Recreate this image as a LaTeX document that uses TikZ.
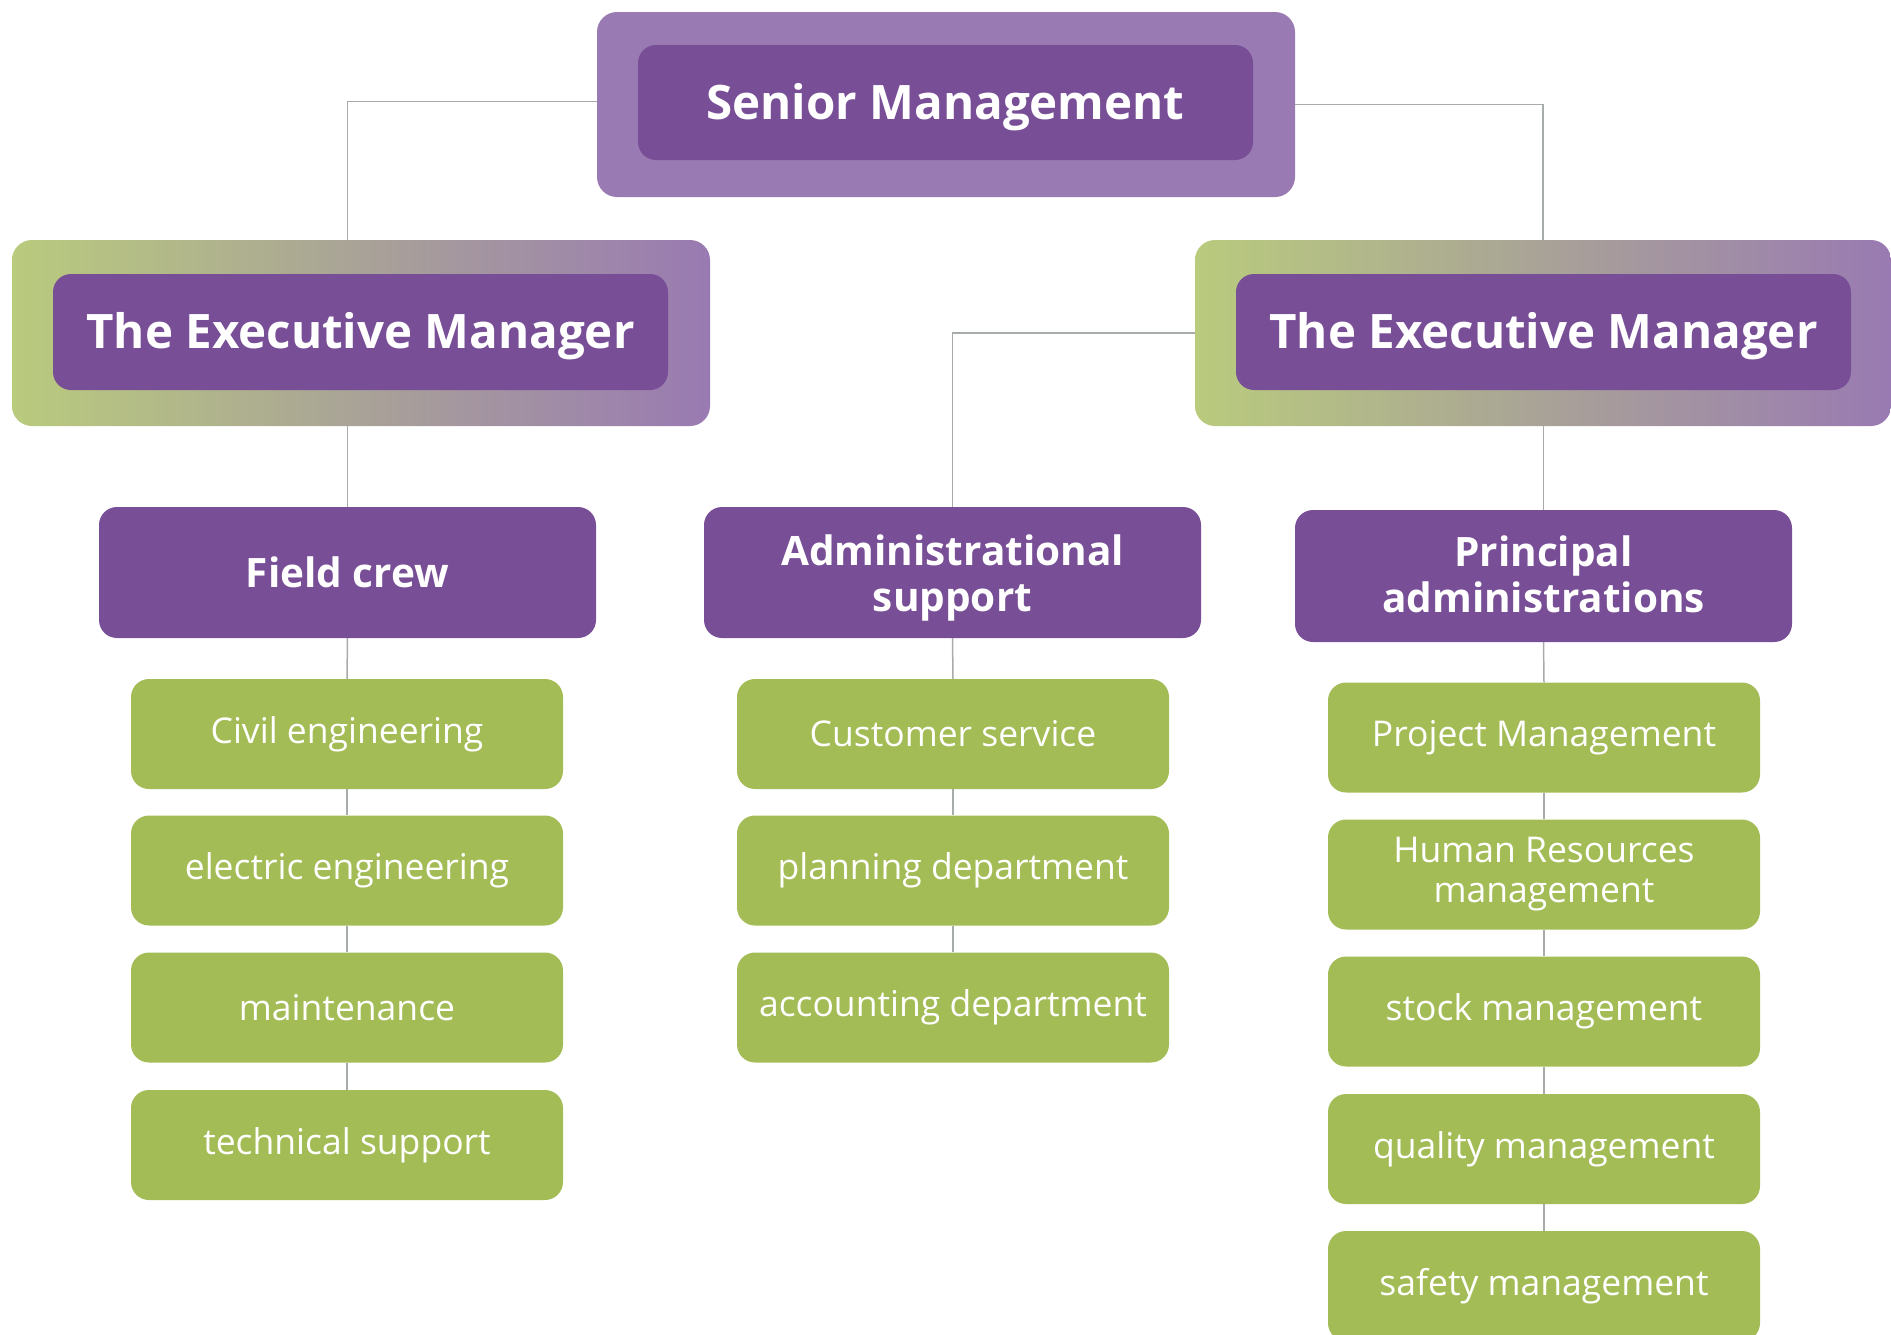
\documentclass[tikz,border=0pt]{standalone}
\usepackage{fontspec}
\setmainfont{Open Sans}
\definecolor{dpurple}{RGB}{120,78,150}
\definecolor{lpurple}{RGB}{153,122,178}
\definecolor{gleft}{RGB}{185,203,125}
\definecolor{gmid}{RGB}{168,162,152}
\definecolor{gright}{RGB}{153,122,178}
\definecolor{boxgreen}{RGB}{163,188,85}
\definecolor{linegray}{RGB}{168,172,168}
\begin{document}
\begin{tikzpicture}[x=1pt,y=-1pt,
  outerplain/.style={fill=lpurple, rounded corners=20pt, inner sep=0pt},
  outergrad/.style={left color=gleft, middle color=gmid, right color=gright, rounded corners=20pt, inner sep=0pt, draw=none},
  topbox/.style={fill=dpurple, rounded corners=18pt, text=white, inner sep=0pt, align=center, font=\bfseries\fontsize{47.5}{54}\selectfont},
  deptbox/.style={fill=dpurple, rounded corners=18pt, text=white, inner sep=0pt, align=center, minimum width=497pt, font=\bfseries\fontsize{40.5}{46}\selectfont},
  depttext/.style={text=white, inner sep=0pt, align=center, font=\bfseries\fontsize{40.5}{46}\selectfont},
  unitbox/.style={fill=boxgreen, rounded corners=18pt, text=white, inner sep=0pt, align=center, minimum width=432pt, minimum height=110pt, font=\fontsize{35.5}{40}\selectfont},
  link/.style={draw=linegray, line width=1.5pt}]
\clip (0,0) rectangle (1891,1334);
\coordinate (fcx) at (347.5,0);
\coordinate (asx) at (952.5,0);
\coordinate (pax) at (1543.5,0);
% top level
\node[outerplain, minimum width=698pt, minimum height=185pt] (smo) at (946,104.5) {};
\node[topbox, minimum width=615pt, minimum height=115pt] (sm) at (945.5,102.5) {\raisebox{-5pt}[\height][\depth]{Senior Management}};
% executives
\node[outergrad, minimum width=698pt, minimum height=186pt] (exlo) at (361,333) {};
\node[topbox, minimum width=615pt, minimum height=116pt] (exl) at (360.5,332) {\raisebox{-4pt}[\height][\depth]{The Executive Manager}};
\node[outergrad, minimum width=696pt, minimum height=186pt] (exro) at (1543,333) {};
\node[topbox, minimum width=615pt, minimum height=116pt] (exr) at (1543.5,332) {\raisebox{-4pt}[\height][\depth]{The Executive Manager}};
% departments
\node[deptbox, minimum height=131pt] (fc) at (347.5,572.5) {Field crew};
\node[deptbox, minimum height=131pt, label={[depttext, yshift=-5pt]center:{Administrational\\support}}] (as) at (952.5,572.5) {};
\node[deptbox, minimum height=132pt, label={[depttext, yshift=2pt]center:{Principal\\administrations}}] (pa) at (1543.5,576) {};
% units left
\node[unitbox] (l1) at (347,734) {Civil engineering};
\node[unitbox] (l2) at (347,870.5) {electric engineering};
\node[unitbox] (l3) at (347,1007.5) {maintenance};
\node[unitbox] (l4) at (347,1145) {technical support};
% units middle
\node[unitbox] (m1) at (953,734) {Customer service};
\node[unitbox] (m2) at (953,870.5) {planning department};
\node[unitbox] (m3) at (953,1007.5) {accounting department};
% units right
\node[unitbox] (r1) at (1544,737.5) {Project Management};
\node[unitbox] (r2) at (1544,874.5) {Human Resources\\management};
\node[unitbox] (r3) at (1544,1011.5) {stock management};
\node[unitbox] (r4) at (1544,1149) {quality management};
\node[unitbox] (r5) at (1544,1286) {safety management};
% connectors
\draw[link] ([yshift=3pt]smo.west) -| (exlo.north -| fcx);
\draw[link] (smo.east) -| (exro.north);
\draw[link] (exro.west) -| (as.north -| asx);
\draw[link] (exlo.south -| fcx) -- (fc.north);
\draw[link] (exro.south -| pax) -- (pa.north);
\draw[link] (fc.south) -- (l1.north);
\draw[link] (l1.south) -- (l2.north);
\draw[link] (l2.south) -- (l3.north);
\draw[link] (l3.south) -- (l4.north);
\draw[link] (as.south) -- (m1.north);
\draw[link] (m1.south) -- (m2.north);
\draw[link] (m2.south) -- (m3.north);
\draw[link] (pa.south) -- (r1.north);
\draw[link] (r1.south) -- (r2.north);
\draw[link] (r2.south) -- (r3.north);
\draw[link] (r3.south) -- (r4.north);
\draw[link] (r4.south) -- (r5.north);
\end{tikzpicture}
\end{document}
